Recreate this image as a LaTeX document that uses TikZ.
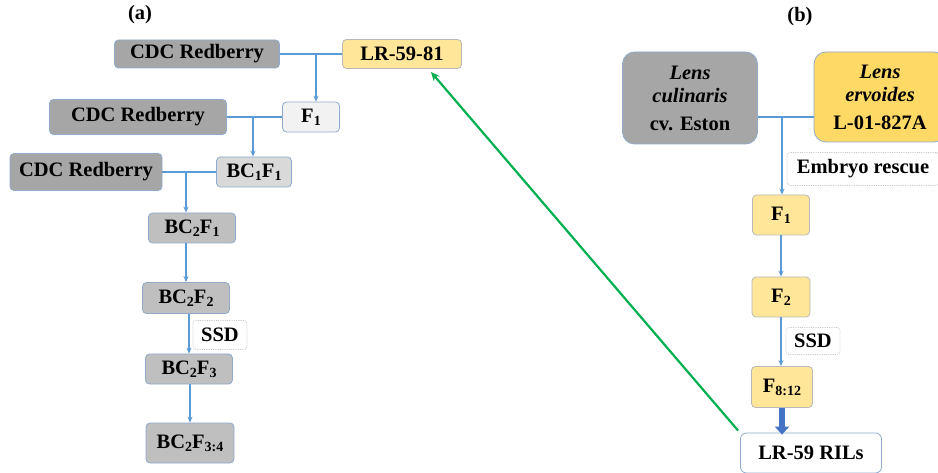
\documentclass[tikz,border=0pt]{standalone}
\usepackage{fontspec}
\setmainfont{LiberationSerif}[Extension=.ttf, UprightFont=*-Regular, BoldFont=*-Bold,
  ItalicFont=*-Italic, BoldItalicFont=*-BoldItalic]
\definecolor{lnblue}{HTML}{5B9BD5}
\definecolor{bdblue}{HTML}{8FAACC}
\definecolor{gdark}{HTML}{A6A6A6}
\definecolor{gmid}{HTML}{BFBFBF}
\definecolor{gpale}{HTML}{D9D9D9}
\definecolor{glight}{HTML}{F2F2F2}
\definecolor{ylight}{HTML}{FFE699}
\definecolor{ygold}{HTML}{FFD966}
\definecolor{arblue}{HTML}{4472C4}
\definecolor{rgreen}{HTML}{00B050}
\usetikzlibrary{arrows.meta, calc}
\newcommand{\lowidx}[1]{\raisebox{-0.3ex}{\fontsize{14}{15}\selectfont #1}}

\begin{document}
\begin{tikzpicture}[x=1pt, y=-1pt,
  box/.style={rounded corners=4pt, draw=bdblue, line width=0.8pt, inner sep=0pt,
              align=center, font=\rmfamily\fontsize{20.5}{23}\selectfont\bfseries},
  dark/.style={box, fill=gdark},
  mid/.style={box, fill=gmid},
  pale/.style={box, fill=gpale},
  light/.style={box, fill=glight},
  yel/.style={box, fill=ylight, draw=gdark!80},
  note/.style={box, rounded corners=3pt, draw=gray!45, densely dotted, fill=white},
  link/.style={-{Stealth[length=6pt, width=5pt]}, lnblue, line width=1.4pt},
]
  \useasboundingbox (0,0) rectangle (938,473);

  % panel (a)
  \node[font=\rmfamily\fontsize{20.5}{23}\selectfont\bfseries] (la) at (140,15) {(a)};
  \node[dark, minimum width=165pt, minimum height=28pt] (c1) at (197,54) {CDC Redberry};
  \node[yel, minimum width=119pt, minimum height=29pt] (lr) at (402,54) {LR-59-81};
  \node[light, minimum width=57pt, minimum height=30pt] (f1a) at (311,117) {F\lowidx{1}};
  \node[dark, minimum width=177pt, minimum height=35pt] (c2) at (138,117) {CDC Redberry};
  \node[pale, minimum width=75pt, minimum height=30pt] (bc11) at (254,172) {BC\lowidx{1}F\lowidx{1}};
  \node[dark, minimum width=152pt, minimum height=37pt] (c3) at (86,172) {CDC Redberry};
  \node[mid, minimum width=87pt, minimum height=30pt] (bc21) at (192,228) {BC\lowidx{2}F\lowidx{1}};
  \node[mid, minimum width=87pt, minimum height=31pt] (bc22) at (186,298) {BC\lowidx{2}F\lowidx{2}};
  \node[note, minimum width=54pt, minimum height=29pt] (ssda) at (220,335) {SSD};
  \node[mid, minimum width=87pt, minimum height=30pt] (bc23) at (189,369) {BC\lowidx{2}F\lowidx{3}};
  \node[mid, minimum width=88pt, minimum height=40pt] (bc234) at (190,443) {BC\lowidx{2}F\lowidx{3:4}};

  \coordinate (j1) at (316,54);
  \coordinate (j2) at (253,117);
  \coordinate (j3) at (186,172);
  \draw[lnblue, line width=1.4pt] (c1.east) -- (lr.west);
  \draw[link] (j1) -- (j1 |- f1a.north);
  \draw[lnblue, line width=1.4pt] (c2.east) -- (f1a.west);
  \draw[link] (j2) -- (j2 |- bc11.north);
  \draw[lnblue, line width=1.4pt] (c3.east) -- (bc11.west);
  \draw[link] (j3) -- (j3 |- bc21.north);
  \draw[link] (bc22 |- bc21.south) -- (bc22.north);
  \draw[link] (bc23 |- bc22.south) -- (bc23.north);
  \draw[link] (bc234 |- bc23.south) -- (bc234.north);

  % panel (b)
  \node[font=\rmfamily\fontsize{20.5}{23}\selectfont\bfseries] (lb) at (800,17) {(b)};
  \node[dark, rounded corners=12pt, minimum width=135pt, minimum height=92pt] (cul) at (690,98)
    {\textit{Lens}\\\textit{culinaris}\\[5pt]cv. Eston};
  \node[box, fill=ygold, rounded corners=12pt, minimum width=132pt, minimum height=90pt] (erv) at (880,97)
    {\textit{Lens}\\\textit{ervoides}\\[5pt]L-01-827A};
  \node[note, minimum width=152pt, minimum height=33pt] (emb) at (863,169) {Embryo rescue};
  \node[yel, minimum width=57pt, minimum height=40pt] (f1b) at (781,215) {F\lowidx{1}};
  \node[yel, minimum width=58pt, minimum height=40pt] (f2b) at (781,297) {F\lowidx{2}};
  \node[note, minimum width=54pt, minimum height=27pt] (ssdb) at (813,341) {SSD};
  \node[yel, minimum width=61pt, minimum height=41pt] (f812) at (782,387) {F\lowidx{8:12}};
  \node[box, draw=bdblue, fill=white, rounded corners=6pt, minimum width=141pt, minimum height=40pt]
    (ril) at (811,453) {LR-59 RILs};

  \coordinate (j4) at (782,117);
  \coordinate (lrin) at (431,72);
  \draw[lnblue, line width=1.4pt] (cul.east |- j4) -- (erv.west |- j4);
  \draw[link] (j4) -- (j4 |- f1b.north);
  \draw[link] (f2b |- f1b.south) -- (f2b.north);
  \draw[link] (f2b.south) -- (f2b |- f812.north);
  \draw[-{Triangle[length=8pt, width=14pt]}, arblue, line width=5.5pt] (f812.south) -- ([yshift=-2pt]f812 |- ril.north);
  \draw[-{Stealth[length=9pt, width=8pt]}, rgreen, line width=2.2pt] ([xshift=-2pt, yshift=2pt]ril.north west) -- (lrin);
\end{tikzpicture}
\end{document}
